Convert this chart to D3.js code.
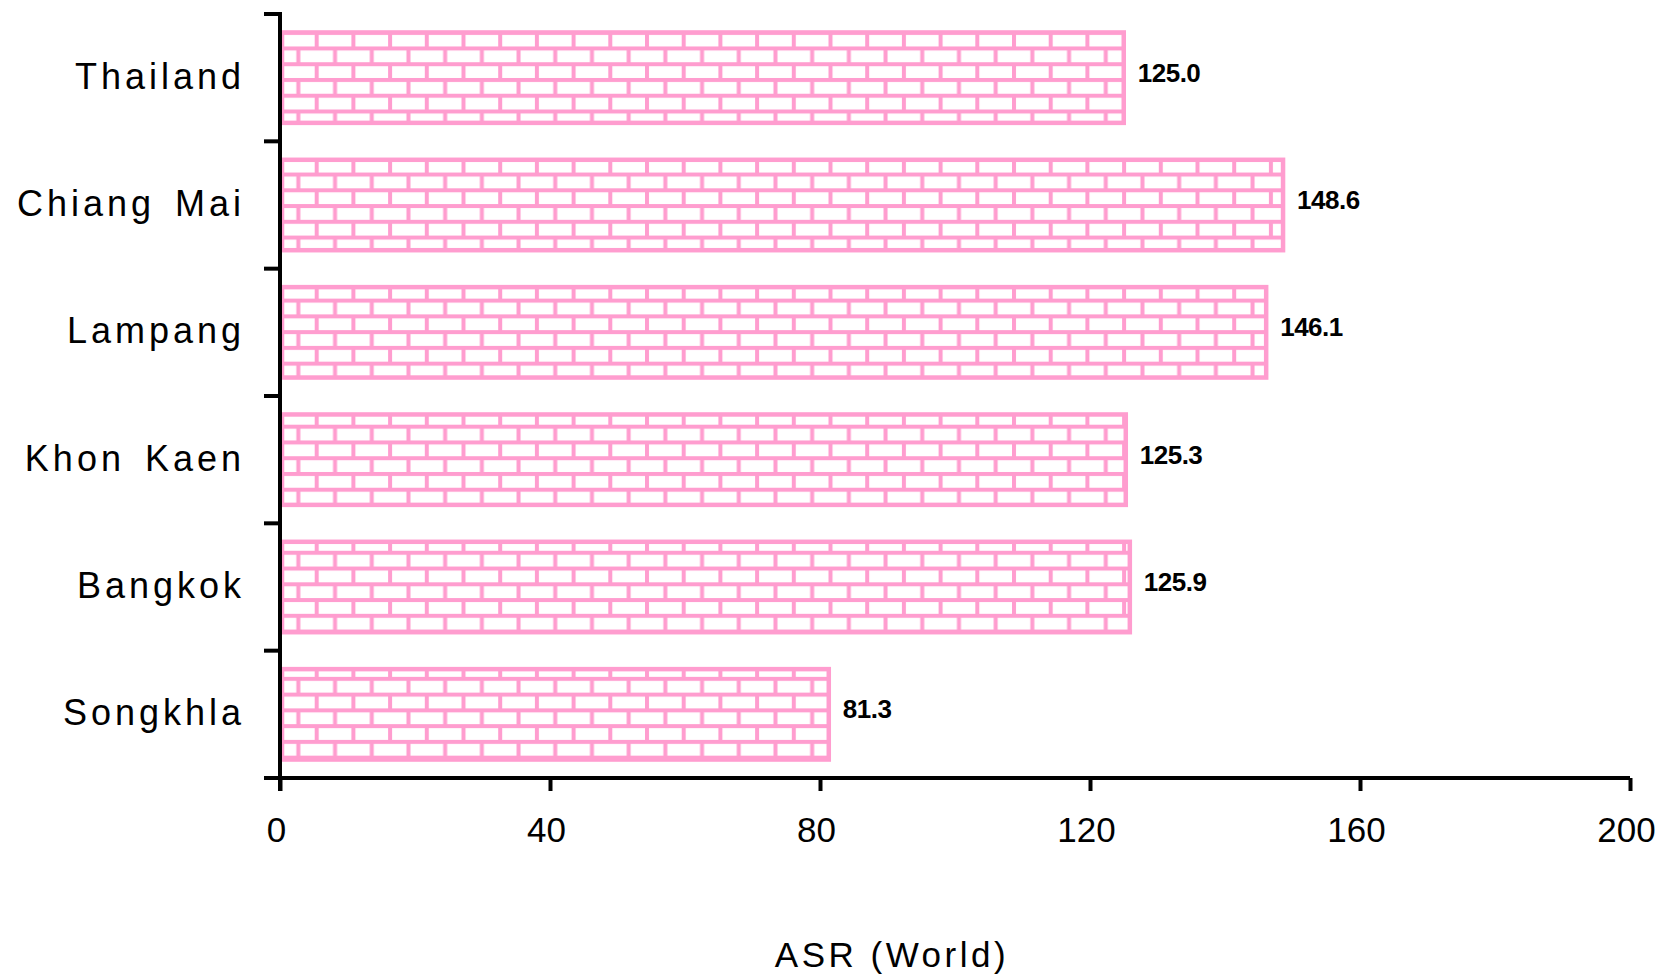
<!DOCTYPE html>
<html>
<head>
<meta charset="utf-8">
<script src="https://cdn.jsdelivr.net/npm/d3@7"></script>
<style>
  html, body { margin: 0; padding: 0; background: #fff; }
  svg { display: block; font-family: "Liberation Sans", Arial, sans-serif; }
</style>
</head>
<body>
<script>
const categories = ["Thailand", "Chiang Mai", "Lampang", "Khon Kaen", "Bangkok", "Songkhla"];
const values = [125.0, 148.6, 146.1, 125.3, 125.9, 81.3];
const valueLabels = ["125.0", "148.6", "146.1", "125.3", "125.9", "81.3"];
const xTicks = [0, 40, 80, 120, 160, 200];
const axisTitle = "ASR (World)";

const WIDTH = 1668;
const HEIGHT = 976;
const PINK = "#ff9dcf";

const svg = d3.select("body").append("svg")
    .attr("width", WIDTH)
    .attr("height", HEIGHT);

const x = d3.scaleLinear().domain([0, 200]).range([280, 1630]);
const y = d3.scaleBand().domain(categories).range([14, 778])
    .paddingInner(0.29).paddingOuter(0.145);

// brick pattern
const bw = 36.7, bh = 15.76, lw = 4;
const pat = svg.append("defs").append("pattern")
    .attr("id", "brick")
    .attr("patternUnits", "userSpaceOnUse")
    .attr("x", 316.7 - lw / 2)
    .attr("y", 32.7 - lw / 2)
    .attr("width", bw)
    .attr("height", bh * 2);
pat.append("rect").attr("width", bw).attr("height", bh * 2).attr("fill", "#fff");
pat.append("rect").attr("y", 0).attr("width", bw).attr("height", lw).attr("fill", PINK);
pat.append("rect").attr("y", bh).attr("width", bw).attr("height", lw).attr("fill", PINK);
pat.append("rect").attr("x", 0).attr("width", lw).attr("height", bh).attr("fill", PINK);
pat.append("rect").attr("x", bw / 2).attr("y", bh).attr("width", lw).attr("height", bh).attr("fill", PINK);

const data = categories.map((c, i) => ({cat: c, value: values[i], label: valueLabels[i]}));

// bars
svg.selectAll(".bar")
    .data(data).enter()
  .append("rect")
    .attr("class", "bar")
    .attr("x", x(0) + 2)
    .attr("y", d => y(d.cat))
    .attr("width", d => x(d.value) - x(0) - 2)
    .attr("height", y.bandwidth())
    .attr("fill", "url(#brick)")
    .attr("stroke", PINK)
    .attr("stroke-width", 4.5);

// value labels
svg.selectAll(".val")
    .data(data).enter()
  .append("text")
    .attr("class", "val")
    .attr("x", d => x(d.value) + 14)
    .attr("y", d => y(d.cat) + y.bandwidth() / 2 + 4)
    .attr("font-size", 26)
    .attr("font-weight", "bold")
    .attr("letter-spacing", -0.5)
    .text(d => d.label);

// category labels
svg.selectAll(".cat")
    .data(categories).enter()
  .append("text")
    .attr("class", "cat")
    .attr("x", 245)
    .attr("y", d => y(d) + y.bandwidth() / 2 + 11)
    .attr("text-anchor", "end")
    .attr("font-size", 36)
    .attr("letter-spacing", 4)
    .attr("word-spacing", 6)
    .text(d => d);

// y axis line + boundary ticks
const yTop = y.range()[0], yBot = y.range()[1];
svg.append("line")
    .attr("x1", x(0)).attr("x2", x(0))
    .attr("y1", yTop - 2).attr("y2", yBot + 13)
    .attr("stroke", "#000").attr("stroke-width", 4);
svg.selectAll(".ytick")
    .data(d3.range(categories.length + 1)).enter()
  .append("line")
    .attr("x1", x(0) - 16).attr("x2", x(0))
    .attr("y1", i => yTop + i * y.step())
    .attr("y2", i => yTop + i * y.step())
    .attr("stroke", "#000").attr("stroke-width", 4);

// x axis
svg.append("line")
    .attr("x1", x(0) - 16).attr("x2", x(200))
    .attr("y1", yBot).attr("y2", yBot)
    .attr("stroke", "#000").attr("stroke-width", 4);
const xAxis = svg.append("g")
    .attr("transform", `translate(0,${yBot})`)
    .call(d3.axisBottom(x).tickValues(xTicks).tickSize(13).tickFormat(d3.format("d")));
xAxis.select(".domain").remove();
xAxis.selectAll(".tick line").attr("stroke", "#000").attr("stroke-width", 4);
xAxis.selectAll(".tick text")
    .attr("y", 64).attr("dy", 0).attr("dx", -4)
    .attr("fill", "#000")
    .attr("font-size", 35)
    .attr("font-family", "\"Liberation Sans\", Arial, sans-serif");

// axis title
svg.append("text")
    .attr("x", 892)
    .attr("y", 967)
    .attr("text-anchor", "middle")
    .attr("font-size", 35)
    .attr("letter-spacing", 3.5)
    .text(axisTitle);
</script>
</body>
</html>
